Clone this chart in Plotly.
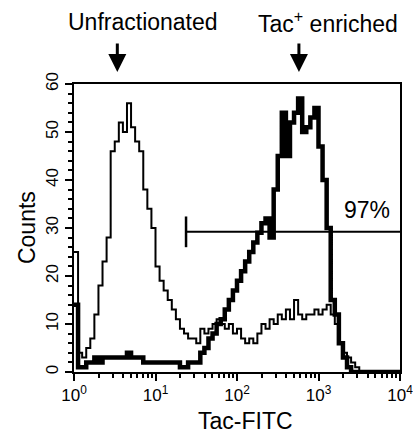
import math
import plotly.graph_objects as go

# channel positions in decades (log10 of Tac-FITC fluorescence)
log_channels = [
    0.00, 0.05, 0.10, 0.15, 0.20, 0.25, 0.30, 0.35, 0.40, 0.45,
    0.50, 0.55, 0.60, 0.65, 0.70, 0.75, 0.80, 0.85, 0.90, 0.95,
    1.00, 1.05, 1.10, 1.15, 1.20, 1.25, 1.30, 1.35, 1.40, 1.45,
    1.50, 1.55, 1.60, 1.65, 1.70, 1.75, 1.80, 1.85, 1.90, 1.95,
    2.00, 2.05, 2.10, 2.15, 2.20, 2.25, 2.30, 2.35, 2.40, 2.45,
    2.50, 2.55, 2.60, 2.65, 2.70, 2.75, 2.80, 2.85, 2.90, 2.95,
    3.00, 3.05, 3.10, 3.15, 3.20, 3.25, 3.30, 3.35, 3.40, 3.45,
    3.50, 3.55, 3.60, 3.65, 3.70, 3.75, 3.80, 3.85, 3.90, 3.95, 4.00,
]

unfractionated = [
    25, 4, 3, 5, 7, 12, 18, 23, 28, 46,
    48, 52, 50, 56, 51, 48, 46, 38, 34, 30,
    22, 19, 17, 15, 13, 11, 9, 8, 7, 7,
    6, 9, 8, 9, 10, 11, 10, 9, 10, 8,
    9, 7, 6, 7, 6, 8, 10, 9, 11, 10,
    12, 11, 13, 11, 15, 12, 11, 12, 12, 13,
    12, 13, 14, 12, 10, 6, 4, 3, 2, 1,
    0, 0, 0, 0, 0, 0, 0, 0, 0, 0, 0,
]

tac_enriched = [
    14, 1, 1, 2, 2, 3, 2, 3, 3, 3,
    3, 3, 3, 4, 3, 3, 3, 2, 2, 2,
    2, 2, 2, 2, 2, 2, 1, 1, 2, 2,
    2, 4, 5, 7, 8, 10, 11, 13, 15, 17,
    19, 21, 23, 25, 27, 29, 31, 32, 28, 38,
    45, 54, 45, 52, 54, 57, 50, 51, 53, 55,
    47, 40, 30, 15, 12, 6, 3, 1, 0, 0,
    0, 0, 0, 0, 0, 0, 0, 0, 0, 0, 0,
]

x_tick_exponents = [0, 1, 2, 3, 4]
y_ticks = [0, 10, 20, 30, 40, 50, 60]

gate_start = 23.7
gate_end = 10000
gate_level = 29.2
gate_label = "97%"

arrow_positions = [3.4, 575]
labels = ["Unfractionated", "Tac<sup>+</sup> enriched"]
label_positions = [143, 328]

x_vals = [10 ** e for e in log_channels]

fig = go.Figure()
fig.add_trace(go.Scatter(x=x_vals, y=unfractionated, mode="lines",
                         line=dict(color="black", width=2, shape="hv"),
                         showlegend=False))
fig.add_trace(go.Scatter(x=x_vals, y=tac_enriched, mode="lines",
                         line=dict(color="black", width=4.5, shape="hv"),
                         showlegend=False))
# gate marker
fig.add_trace(go.Scatter(x=[gate_start, gate_end], y=[gate_level, gate_level],
                         mode="lines", line=dict(color="black", width=2),
                         showlegend=False))
fig.add_trace(go.Scatter(x=[gate_start, gate_start], y=[gate_level - 3.2, gate_level + 3.2],
                         mode="lines", line=dict(color="black", width=2.5),
                         showlegend=False))

font = "Liberation Sans, Arial, sans-serif"

minor_x = [m * 10 ** k for k in range(4) for m in range(2, 10)]

fig.update_layout(
    template="none",
    width=413, height=437,
    margin=dict(l=74, r=13, t=84, b=65, autoexpand=False),
    paper_bgcolor="white", plot_bgcolor="white",
    font=dict(family=font, color="black", size=16),
    xaxis=dict(
        type="log", range=[0, 4], automargin=False,
        tickvals=[10 ** e for e in x_tick_exponents],
        ticktext=["10<sup>%d</sup>" % e for e in x_tick_exponents],
        ticklabeloverflow="allow",
        ticks="outside", ticklen=7, tickwidth=2, tickcolor="black",
        minor=dict(tickvals=minor_x, ticks="outside", ticklen=4, tickwidth=1.5, tickcolor="black"),
        showline=True, linewidth=2, linecolor="black", mirror=True,
        showgrid=False, zeroline=False,
        tickfont=dict(size=17),
    ),
    yaxis=dict(
        range=[0, 60], automargin=False,
        tickvals=y_ticks,
        ticklabeloverflow="allow",
        ticks="outside", ticklen=7, tickwidth=2, tickcolor="black",
        minor=dict(dtick=2, ticks="outside", ticklen=4, tickwidth=1.5, tickcolor="black"),
        showline=True, linewidth=2, linecolor="black", mirror=True,
        showgrid=False, zeroline=False,
        tickangle=-90,
        tickfont=dict(size=17),
    ),
)

annotations = [
    dict(text="Counts", x=-0.144, y=0.5, xref="paper", yref="paper",
         textangle=-90, showarrow=False, font=dict(size=23),
         xanchor="center", yanchor="middle"),
    dict(text="Tac-FITC", x=0.525, y=-0.17, xref="paper", yref="paper",
         showarrow=False, font=dict(size=23), xanchor="center", yanchor="middle"),
    dict(text=gate_label, x=3.6, y=gate_level + 4.5, xref="x", yref="y",
         showarrow=False, font=dict(size=23), xanchor="center", yanchor="middle"),
]
for px, lab in zip(label_positions, labels):
    annotations.append(dict(text=lab, x=(px - 74) / 326, y=1.215, xref="paper", yref="paper",
                            showarrow=False, font=dict(size=23),
                            xanchor="center", yanchor="middle"))
for xv in arrow_positions:
    annotations.append(dict(text="", x=math.log10(xv), y=1.042, xref="x", yref="paper",
                            showarrow=True, arrowhead=2, arrowsize=1.2, arrowwidth=3,
                            arrowcolor="black", ax=0, ay=-30))
fig.update_layout(annotations=annotations)

fig.write_html("out.html")
